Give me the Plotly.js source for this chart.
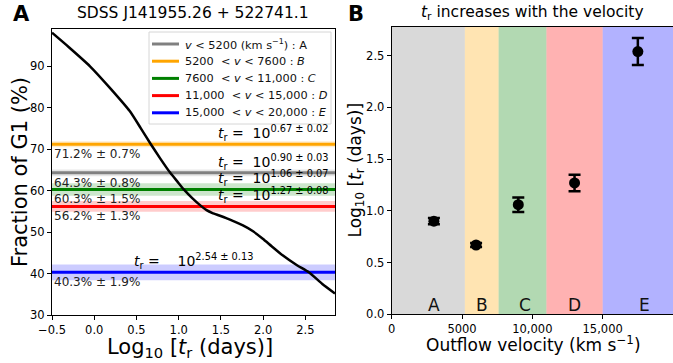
<!DOCTYPE html>
<html><head><meta charset="utf-8">
<script src="https://cdn.plot.ly/plotly-3.0.1.min.js"></script>
<style>html,body{margin:0;padding:0;background:#fff}</style>
</head><body><div id="chart" style="width:673px;height:363px"></div>
<script>
// ---- data ----
const curveX = [-0.5,-0.3,-0.05,0.185,0.42,0.55,0.67,0.78,0.9,0.98,1.06,1.16,1.27,1.33,1.4,1.48,1.62,1.76,1.88,1.995,2.1,2.23,2.4,2.54,2.7,2.85];
const curveY = [98.1,94.6,90.0,84.8,79.2,75.1,71.2,67.8,64.3,62.3,60.3,58.2,56.2,55.3,54.6,54.0,52.9,51.6,50.2,48.4,46.6,44.4,42.0,40.3,37.5,35.2];

const groups = ['A','B','C','D','E'];
const legendNames = [
  '<i>v</i> &lt; 5200 (km s<sup>\u22121</sup>) : A',
  '5200 \u00a0&lt; <i>v</i> &lt; 7600 : <i>B</i>',
  '7600 \u00a0&lt; <i>v</i> &lt; 11,000 : <i>C</i>',
  '11,000 \u00a0&lt; <i>v</i> &lt; 15,000 : <i>D</i>',
  '15,000 \u00a0&lt; <i>v</i> &lt; 20,000 : <i>E</i>'
];
const lineColors = ['#808080','#FFA500','#008000','#FF0000','#0000FF'];
const bandColorsA = ['rgba(128,128,128,0.2)','rgba(255,165,0,0.2)','rgba(0,128,0,0.2)','rgba(255,0,0,0.2)','rgba(0,0,255,0.2)'];
const bandColorsB = ['rgba(128,128,128,0.3)','rgba(255,165,0,0.3)','rgba(0,128,0,0.3)','rgba(255,0,0,0.3)','rgba(0,0,255,0.3)'];
const fracVals = [64.3, 71.2, 60.3, 56.2, 40.3];
const fracErr  = [0.8, 0.7, 1.5, 1.3, 1.9];
const trLog = [0.90, 0.67, 1.06, 1.27, 2.54];
const trErr = [0.03, 0.02, 0.07, 0.08, 0.13];
const trErrText = ['0.90 \u00b1 0.03','0.67 \u00b1 0.02','1.06 \u00b1 0.07','1.27 \u00b1 0.08','2.54 \u00b1 0.13'];
const velMid = [3000, 6000, 9000, 13000, 17500];
const bandEdges = [0, 5200, 7600, 11000, 15000, 20000];
const letterX = [3000, 6450, 9450, 13000, 18000];
const xRangeA = [-0.5, 2.85];

const FONT = 'DejaVu Sans';
const W = 673, H = 363;
const traces = [];
const annotations = [];
const shapes = [];

// Panel A bands
for (let i = 0; i < groups.length; i++) {
  const lo = fracVals[i] - fracErr[i], hi = fracVals[i] + fracErr[i];
  traces.push({x:[xRangeA[0],xRangeA[1],xRangeA[1],xRangeA[0],xRangeA[0]], y:[lo,lo,hi,hi,lo],
    xaxis:'x', yaxis:'y', mode:'lines', fill:'toself', fillcolor:bandColorsA[i],
    line:{width:0}, showlegend:false, hoverinfo:'skip'});
}
// Panel A lines
for (let i = 0; i < groups.length; i++) {
  traces.push({x:xRangeA, y:[fracVals[i], fracVals[i]], xaxis:'x', yaxis:'y', mode:'lines',
    line:{color:lineColors[i], width:3}, name:legendNames[i], showlegend:false});
}
// curve
traces.push({x:curveX, y:curveY, xaxis:'x', yaxis:'y', mode:'lines', line:{color:'black', width:2.5, shape:'spline', smoothing:0.5}, showlegend:false});

// t_r annotations and percent labels
for (let i = 0; i < groups.length; i++) {
  const txt = '<i>t</i><sub>r</sub> =\u00a0\u00a010<sup>' + trErrText[i] + '</sup>';
  if (groups[i] === 'E') {
    annotations.push({xref:'x', yref:'y', x:1.17, y:fracVals[i], xanchor:'center', yanchor:'bottom', yshift:-1,
      text:'<i>t</i><sub>r</sub> =\u00a0\u00a0\u00a0\u00a010<sup>' + trErrText[i] + '</sup>', showarrow:false, font:{family:FONT, size:14, color:'black'}});
  } else {
    annotations.push({xref:'x', yref:'y', x:2.8, y:fracVals[i], xanchor:'right', yanchor:'bottom', yshift:-1,
      text:txt, showarrow:false, font:{family:FONT, size:14, color:'black'}});
  }
  annotations.push({xref:'x', yref:'y', x:-0.5, y:fracVals[i], xanchor:'left', yanchor:'top', yshift:-1,
    text:fracVals[i].toFixed(1) + '% \u00b1 ' + fracErr[i].toFixed(1) + '%', showarrow:false,
    font:{family:FONT, size:12, color:'#222'}});
}

// Legend box (drawn manually to match compact matplotlib spacing)
shapes.push({type:'rect', xref:'paper', yref:'paper', x0:149/W, x1:331/W, y0:1-124/H, y1:1-32/H,
  fillcolor:'rgba(255,255,255,0.85)', line:{color:'#d6d6d6', width:1}, layer:'above'});
for (let k = 0; k < groups.length; k++) {
  const yPix = 44 + k * 17.2;
  shapes.push({type:'line', xref:'paper', yref:'paper', x0:152/W, x1:179/W, y0:1-yPix/H, y1:1-yPix/H,
    line:{color:lineColors[k], width:3}, layer:'above'});
  annotations.push({xref:'paper', yref:'paper', x:183/W, y:1-yPix/H, xanchor:'left', yanchor:'middle',
    text:legendNames[k], showarrow:false, font:{family:FONT, size:11.3, color:'#111'}});
}

// Panel B bands
for (let i = 0; i < groups.length; i++) {
  shapes.push({type:'rect', xref:'x2', yref:'y2 domain', x0:bandEdges[i], x1:bandEdges[i+1], y0:0, y1:1,
    fillcolor:bandColorsB[i], line:{width:0}, layer:'below'});
  annotations.push({xref:'x2', yref:'y2', x:letterX[i], y:0, xanchor:'center', yanchor:'bottom', yshift:-3,
    text:groups[i], showarrow:false, font:{family:FONT, size:17, color:'#111'}});
}
// Panel B points
traces.push({x:velMid, y:trLog, xaxis:'x2', yaxis:'y2', mode:'markers',
  marker:{color:'black', size:11},
  error_y:{type:'data', array:trErr, visible:true, color:'black', thickness:2.5, width:6},
  showlegend:false});

// titles
function pa(text, x, y, size, angle) {
  annotations.push({xref:'paper', yref:'paper', x:x/W, y:1-y/H, xanchor:'center', yanchor:'middle',
    text:text, showarrow:false, textangle:angle || 0, font:{family:FONT, size:size, color:'black'}});
}
pa('<b>A</b>', 21, 14, 21);
pa('<b>B</b>', 356, 14, 21);
pa('SDSS J141955.26 + 522741.1', 192.5, 13.5, 15.5);
pa('<i>t</i><sub>r</sub> increases with the velocity', 532.5, 13.5, 15.5);
pa('Log<sub>10</sub> [<i>t</i><sub>r</sub> (days)]', 190, 348, 21);
pa('Fraction of G1 (%)', 20, 172, 21, -90);
pa('Outflow velocity (km s<sup>\u22121</sup>)', 533, 344, 17);
pa('Log<sub>10</sub> [<i>t</i><sub>r</sub> (days)]', 356, 170.5, 17, -90);

const axBase = {showgrid:false, zeroline:false, showline:true, linecolor:'black', linewidth:1, mirror:true,
  ticks:'outside', ticklen:4, tickwidth:1, tickcolor:'black', automargin:false,
  tickfont:{family:FONT, size:11.5, color:'black'}};

const layout = {
  width:W, height:H, margin:{l:0, r:0, t:0, b:0},
  paper_bgcolor:'white', plot_bgcolor:'white',
  font:{family:FONT},
  xaxis: Object.assign({}, axBase, {domain:[52/W, 335/W], range:xRangeA, tickvals:[-0.5,0,0.5,1,1.5,2,2.5], tickformat:'.1f', anchor:'y'}),
  yaxis: Object.assign({}, axBase, {domain:[1-315/H, 1-29/H], range:[30, 99], tickvals:[30,40,50,60,70,80,90], anchor:'x'}),
  xaxis2: Object.assign({}, axBase, {domain:[391.7/W, 1], range:[0, 20000], tickvals:[0,5000,10000,15000], ticktext:['0','5000','10,000','15,000'], anchor:'y2'}),
  yaxis2: Object.assign({}, axBase, {domain:[1-314.3/H, 1-26.7/H], range:[0, 2.78], tickvals:[0,0.5,1,1.5,2,2.5], tickformat:'.1f', anchor:'x2'}),
  shapes:shapes, annotations:annotations, showlegend:false
};

Plotly.newPlot('chart', traces, layout, {staticPlot:true, displayModeBar:false});
</script></body></html>
